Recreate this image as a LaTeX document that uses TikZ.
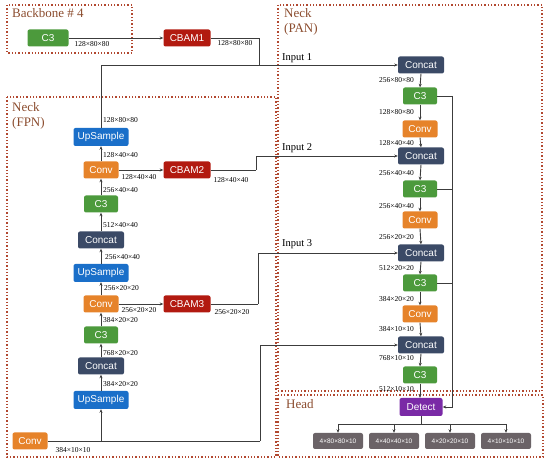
\documentclass[tikz,border=0pt]{standalone}
\usepackage{fontspec}
\setmainfont{Liberation Serif}
\newfontfamily\nodefont{Liberation Sans}
\usetikzlibrary{arrows.meta}
\definecolor{cgreen}{RGB}{76,154,60}
\definecolor{corange}{RGB}{230,131,42}
\definecolor{cnavy}{RGB}{59,74,102}
\definecolor{cblue}{RGB}{26,111,201}
\definecolor{cred}{RGB}{178,26,16}
\definecolor{cpurple}{RGB}{122,42,166}
\definecolor{cgray}{RGB}{107,99,103}
\definecolor{cframe}{RGB}{178,72,48}
\definecolor{ctitle}{RGB}{139,76,46}
\definecolor{cline}{RGB}{60,60,60}
\tikzset{
  blk/.style={rounded corners=2pt, inner sep=0pt, text=white,
    font=\nodefont\fontsize{10}{10}\selectfont, minimum height=17pt},
  cthree/.style={blk, fill=cgreen, minimum width=34pt},
  convb/.style={blk, fill=corange, minimum width=35pt},
  concatb/.style={blk, fill=cnavy, minimum width=46pt},
  upb/.style={blk, fill=cblue, minimum width=55pt, minimum height=18pt},
  cbamb/.style={blk, fill=cred, minimum width=47pt},
  detb/.style={blk, fill=cpurple, minimum width=43pt, minimum height=18pt},
  headb/.style={blk, fill=cgray, minimum width=50pt, minimum height=16pt,
    font=\nodefont\fontsize{6.5}{7}\selectfont},
  dim/.style={font=\fontsize{7.5}{8}\selectfont, inner sep=0pt},
  inlab/.style={font=\fontsize{10.5}{11}\selectfont, inner sep=0pt, anchor=west},
  ttl/.style={font=\fontsize{13}{15}\selectfont, text=ctitle, inner sep=0pt, anchor=north west, align=left},
  frame/.style={draw=cframe, dotted, line width=1.3pt},
  conn/.style={draw=cline, line width=0.9pt},
  arr/.style={conn, -{Stealth[length=3.5pt,width=3pt]}},
}
\begin{document}
\begin{tikzpicture}[x=1pt,y=-1pt]
\useasboundingbox (0,0) rectangle (550,465);
% frames
\draw[frame] (7,5) rectangle (132,53);
\draw[frame] (7,97) rectangle (276,457);
\draw[frame] (278,5) rectangle (542,391);
\draw[frame] (278,395) rectangle (543,457);
\node[ttl] (tb) at (12,8) {Backbone \# 4};
\node[ttl] (tf) at (12,102) {Neck\\(FPN)};
\node[ttl] (tp) at (284,8) {Neck\\(PAN)};
\node[ttl] (th) at (286,399) {Head};

% backbone
\node[cthree, minimum width=41pt] (bc3) at (48,38) {C3};
\node[cbamb] (cbam1) at (187,38) {CBAM1};

% FPN column
\node[upb] (up1) at (101,137) {UpSample};
\node[convb] (fconv1) at (101,170) {Conv};
\node[cbamb] (cbam2) at (187,170) {CBAM2};
\node[cthree] (fc31) at (101,204) {C3};
\node[concatb] (fcat1) at (101,240) {Concat};
\node[upb] (up2) at (101,273) {UpSample};
\node[convb] (fconv2) at (101,304) {Conv};
\node[cbamb] (cbam3) at (187,304) {CBAM3};
\node[cthree] (fc32) at (101,335) {C3};
\node[concatb] (fcat2) at (101,366) {Concat};
\node[upb] (up3) at (101,400) {UpSample};
\node[convb] (bconv) at (30,441) {Conv};

% PAN column
\node[concatb] (pcat1) at (421,65) {Concat};
\node[cthree] (pc31) at (420,96) {C3};
\node[convb] (pconv1) at (420,129) {Conv};
\node[concatb] (pcat2) at (421,156) {Concat};
\node[cthree] (pc32) at (420,189) {C3};
\node[convb] (pconv2) at (420,220) {Conv};
\node[concatb] (pcat3) at (421,253) {Concat};
\node[cthree] (pc33) at (420,283) {C3};
\node[convb] (pconv3) at (420,314) {Conv};
\node[concatb] (pcat4) at (421,345) {Concat};
\node[cthree] (pc34) at (420,375) {C3};
\node[detb] (det) at (421,407) {Detect};

% head outputs
\node[headb] (h1) at (338,441) {4×80×80×10};
\node[headb] (h2) at (394,441) {4×40×40×10};
\node[headb] (h3) at (450,441) {4×20×20×10};
\node[headb] (h4) at (506,441) {4×10×10×10};

% coordinates
\coordinate (k1) at (259,65);
\coordinate (k2) at (256,170);
\coordinate (k3) at (258,304);
\coordinate (k4) at (260,441);
\coordinate (rb) at (452,96);
\coordinate (hb) at (421,424);

% backbone connections
\draw[arr] (bc3.east) -- (cbam1.west);
\draw[conn] (cbam1.east) -| (k1);
\draw[arr] (up1.north) |- (pcat1.west);

% FPN upward path
\draw[arr] (fconv1.north) -- (up1.south);
\draw[arr] (fc31.north) -- (fconv1.south);
\draw[arr] (fcat1.north) -- (fc31.south);
\draw[arr] (up2.north) -- (fcat1.south);
\draw[arr] (fconv2.north) -- (up2.south);
\draw[arr] (fc32.north) -- (fconv2.south);
\draw[arr] (fcat2.north) -- (fc32.south);
\draw[arr] (up3.north) -- (fcat2.south);
\draw[arr] (up3.south |- bconv.east) -- (up3.south);
\draw[arr] (fconv1.east) -- (cbam2.west);
\draw[arr] (fconv2.east) -- (cbam3.west);

% inputs to PAN
\draw[conn] (cbam2.east) -- (k2);
\draw[arr] (k2) |- (pcat2.west);
\draw[conn] (cbam3.east) -- (k3);
\draw[arr] (k3) |- (pcat3.west);
\draw[conn] (bconv.east) -- (k4);
\draw[arr] (k4) |- (pcat4.west);

% PAN downward path
\draw[arr] (pcat1.south) -- (pc31.north);
\draw[arr] (pc31.south) -- (pconv1.north);
\draw[arr] (pconv1.south) -- (pcat2.north);
\draw[arr] (pcat2.south) -- (pc32.north);
\draw[arr] (pc32.south) -- (pconv2.north);
\draw[arr] (pconv2.south) -- (pcat3.north);
\draw[arr] (pcat3.south) -- (pc33.north);
\draw[arr] (pc33.south) -- (pconv3.north);
\draw[arr] (pconv3.south) -- (pcat4.north);
\draw[arr] (pcat4.south) -- (pc34.north);
\draw[arr] (pc34.south) -- (pc34.south |- det.north);

% right bypass
\draw[conn] (pc31.east) -- (rb);
\draw[arr] (rb) |- (det.east);
\draw[conn] (pc32.east) -- (rb |- pc32.east);
\draw[conn] (pc33.east) -- (rb |- pc33.east);

% head branches
\draw[conn] (det.south) -- (hb);
\draw[conn] (h1.north |- hb) -- (h4.north |- hb);
\draw[arr] (h1.north |- hb) -- (h1.north);
\draw[arr] (h2.north |- hb) -- (h2.north);
\draw[arr] (h3.north |- hb) -- (h3.north);
\draw[arr] (h4.north |- hb) -- (h4.north);

% input labels
\node[inlab] (in1) at (282,58) {Input 1};
\node[inlab] (in2) at (282,148) {Input 2};
\node[inlab] (in3) at (282,244) {Input 3};

% dimension labels: backbone
\node[dim] (d1) at (92,44) {128×80×80};
\node[dim] (d2) at (235,43) {128×80×80};
% FPN
\node[dim, anchor=west] (d3) at (103,120) {128×80×80};
\node[dim, anchor=west] (d4) at (103,155) {128×40×40};
\node[dim] (d5) at (139,177) {128×40×40};
\node[dim] (d6) at (231,180) {128×40×40};
\node[dim, anchor=west] (d7) at (103,190) {256×40×40};
\node[dim, anchor=west] (d8) at (103,225) {512×40×40};
\node[dim, anchor=west] (d9) at (105,257) {256×40×40};
\node[dim, anchor=west] (d10) at (104,288) {256×20×20};
\node[dim] (d11) at (139,310) {256×20×20};
\node[dim] (d12) at (232,312) {256×20×20};
\node[dim, anchor=west] (d13) at (103,320) {384×20×20};
\node[dim, anchor=west] (d14) at (103,353) {768×20×20};
\node[dim, anchor=west] (d15) at (103,384) {384×20×20};
\node[dim] (d16) at (73,450) {384×10×10};
% PAN
\node[dim, anchor=east] (p1) at (414,80) {256×80×80};
\node[dim, anchor=east] (p2) at (414,112) {128×80×80};
\node[dim, anchor=east] (p3) at (414,143) {128×40×40};
\node[dim, anchor=east] (p4) at (414,173) {256×40×40};
\node[dim, anchor=east] (p5) at (414,206) {256×40×40};
\node[dim, anchor=east] (p6) at (414,237) {256×20×20};
\node[dim, anchor=east] (p7) at (414,268) {512×20×20};
\node[dim, anchor=east] (p8) at (414,299) {384×20×20};
\node[dim, anchor=east] (p9) at (414,329) {384×10×10};
\node[dim, anchor=east] (p10) at (414,358) {768×10×10};
\node[dim, anchor=east] (p11) at (414,389) {512×10×10};
\end{tikzpicture}
\end{document}
